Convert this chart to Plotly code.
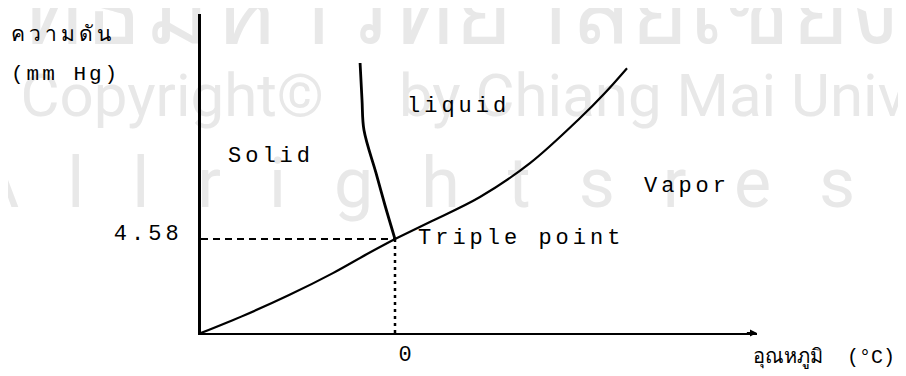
import plotly.graph_objects as go

# sublimation curve (solid / vapor), temperature vs pressure
solid_vapor_t = [-10.0, -7.73, -5.46, -3.20, -1.44, 0.0]
solid_vapor_p = [0.0, 0.88, 1.85, 2.92, 3.85, 4.58]

# vaporization curve (liquid / vapor)
liquid_vapor_t = [0.0, 1.80, 4.38, 6.96, 9.54, 10.82, 11.96]
liquid_vapor_p = [4.58, 5.41, 6.63, 8.28, 10.48, 11.70, 12.91]

# fusion curve (solid / liquid)
solid_liquid_t = [0.0, -0.52, -0.98, -1.60, -1.70, -1.80]
solid_liquid_p = [4.58, 6.24, 7.80, 9.89, 11.35, 13.16]

triple_t = 0.0
triple_p = 4.58
t_start = -10.0
t_end = 18.66

x_tick_vals = [0]
x_tick_text = ["0"]
y_tick_vals = [4.58]
y_tick_text = ["4.58"]

TYPE = "Liberation Mono"
WM = "#e8e8e8"


def spaced(s, px=4):
    return '<span style="letter-spacing:%dpx">%s</span>' % (px, s)


fig = go.Figure()

# faint watermark of the scanned page, drawn first so the lines sit on top
fig.add_trace(go.Scatter(
    x=[3.0, -3.66, 0.2, 12.84],
    y=[12.9, 11.3, 11.3, 7.0],
    mode="text",
    text=["ลิขสิทธิ์มหาวิทยาลัยเชียงใหม่", "Copyright©",
          "by Chiang Mai University",
          spaced("Allrightsreserved", 48)],
    textposition=["top center", "middle left", "middle right", "middle center"],
    textfont=dict(family="Roboto", size=[100, 60, 60, 70], color=WM),
    cliponaxis=False,
    hoverinfo="skip",
))

# guide lines to the triple point
fig.add_trace(go.Scatter(
    x=[t_start, triple_t], y=[triple_p, triple_p],
    mode="lines", line=dict(color="black", width=2, dash="7px,5px"),
    hoverinfo="skip",
))
fig.add_trace(go.Scatter(
    x=[triple_t, triple_t], y=[0, triple_p],
    mode="lines", line=dict(color="black", width=2.5, dash="3px,4px"),
    hoverinfo="skip",
))

for t, p, w in [(solid_vapor_t, solid_vapor_p, 2.2),
                (liquid_vapor_t, liquid_vapor_p, 2.2),
                (solid_liquid_t, solid_liquid_p, 2.8)]:
    fig.add_trace(go.Scatter(
        x=t, y=p, mode="lines",
        line=dict(color="black", width=w, shape="spline"),
        hoverinfo="skip",
    ))

label_font = dict(family=TYPE, size=22, color="black")
for text, x, y in [("Solid", -8.7, 8.6), ("liquid", 0.5, 11.05),
                   ("Vapor", 12.75, 7.13), ("Triple point", 1.1, 4.62)]:
    fig.add_annotation(x=x, y=y, text=spaced(text), showarrow=False,
                       xanchor="left", yanchor="middle", font=label_font)

# small arrow tip at the end of the temperature axis
fig.add_annotation(x=t_end, y=0, ax=t_end - 0.6, ay=0, axref="x", ayref="y",
                   showarrow=True, arrowhead=2, arrowsize=0.7, arrowwidth=2,
                   arrowcolor="black", text="")

fig.add_annotation(xref="paper", yref="paper", x=-0.345, y=0.94,
                   text=spaced("ความดัน", 4), showarrow=False, xanchor="left",
                   yanchor="middle", font=dict(family="Noto Sans", size=21, color="black"))
fig.add_annotation(xref="paper", yref="paper", x=-0.345, y=0.81,
                   text=spaced("(mm Hg)", 3), showarrow=False, xanchor="left",
                   yanchor="middle", font=dict(family=TYPE, size=21, color="black"))
fig.add_annotation(xref="paper", yref="paper", x=1.0, y=-0.078,
                   text="อุณหภูมิ  (°C)", showarrow=False,
                   xanchor="left", yanchor="middle", xshift=-6,
                   font=dict(family=TYPE, size=20, color="black"))

fig.update_xaxes(
    range=[t_start, t_end], showline=True, linecolor="black", linewidth=2,
    showgrid=False, zeroline=False, tickvals=x_tick_vals, ticktext=x_tick_text,
    ticks="", tickfont=dict(family=TYPE, size=22, color="black"),
    ticklabelshift=10, ticklabelstandoff=0,
)
fig.update_yaxes(
    range=[0, 15.55], showline=True, linecolor="black", linewidth=3,
    showgrid=False, zeroline=False, tickvals=y_tick_vals,
    ticktext=[spaced(s, 4) for s in y_tick_text],
    ticks="inside", ticklen=6, tickwidth=2, tickcolor="black",
    tickfont=dict(family=TYPE, size=22, color="black"), ticklabelstandoff=11,
    ticklabelshift=-7,
)
# the page body keeps its default 8px margin, so the plot sits 8px up/left
fig.update_layout(
    width=906, height=376,
    margin=dict(l=193, r=157, t=6, b=51),
    paper_bgcolor="white", plot_bgcolor="white",
    showlegend=False,
)

fig.write_html("out.html")
